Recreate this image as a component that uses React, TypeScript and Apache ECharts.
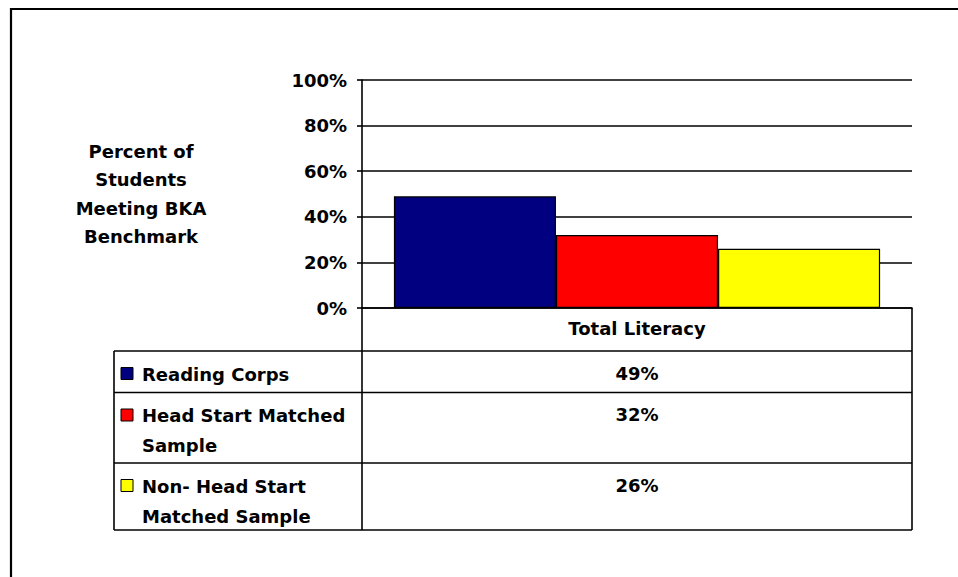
import React, { useEffect, useRef } from "react";
import * as echarts from "echarts";

const categories = ["Total Literacy"];
const seriesNames = ["Reading Corps", "Head Start Matched Sample", "Non- Head Start Matched Sample"];
const legendLines = [["Reading Corps"], ["Head Start Matched", "Sample"], ["Non- Head Start", "Matched Sample"]];
const values = [49, 32, 26];
const colors = ["#000080", "#FF0000", "#FFFF00"];
const yAxisTitle = ["Percent of", "Students", "Meeting BKA", "Benchmark"];

const FONT = "DejaVu Sans";

export default function App() {
  const ref = useRef<HTMLDivElement>(null);
  useEffect(() => {
    if (!ref.current) return;
    const chart = echarts.init(ref.current, null, { renderer: "svg" });

    const gridLeft = 362;
    const gridRight = 912;
    const axisY = 308;
    const tableLeft = 114;
    const rowTops = [351, 392.5, 463];
    const tableBottom = 530;
    const lineStyle = { stroke: "#000", lineWidth: 1.6 };
    const graphics: any[] = [];

    // outer frame
    graphics.push({
      type: "rect",
      shape: { x: 11, y: 9, width: 1000, height: 1000 },
      style: { fill: "none", stroke: "#000", lineWidth: 2.2 },
      silent: true,
      z: 0,
    });

    // y-axis title
    yAxisTitle.forEach((t, i) => {
      graphics.push({
        type: "text",
        x: 141,
        y: 151 + i * 28.6,
        style: { text: t, fill: "#000", font: `bold 18px "${FONT}"`, align: "center", verticalAlign: "middle" },
      });
    });

    // table lines
    graphics.push({ type: "line", shape: { x1: gridLeft, y1: axisY, x2: gridLeft, y2: tableBottom }, style: lineStyle });
    graphics.push({ type: "line", shape: { x1: gridRight, y1: axisY, x2: gridRight, y2: tableBottom }, style: lineStyle });
    graphics.push({ type: "line", shape: { x1: tableLeft, y1: rowTops[0], x2: tableLeft, y2: tableBottom }, style: lineStyle });
    [...rowTops, tableBottom].forEach((y) => {
      graphics.push({ type: "line", shape: { x1: tableLeft, y1: y, x2: gridRight, y2: y }, style: lineStyle });
    });

    // table rows
    values.forEach((v, i) => {
      const top = rowTops[i];
      const firstY = top + 23;
      graphics.push({
        type: "rect",
        shape: { x: 121, y: firstY - 6.5, width: 12, height: 12 },
        style: { fill: colors[i], stroke: "#000", lineWidth: 1 },
      });
      legendLines[i].forEach((ln, j) => {
        graphics.push({
          type: "text",
          x: 142,
          y: firstY + j * 30,
          style: { text: ln, fill: "#000", font: `bold 18px "${FONT}"`, align: "left", verticalAlign: "middle" },
        });
      });
      graphics.push({
        type: "text",
        x: (gridLeft + gridRight) / 2,
        y: firstY - 1,
        style: { text: `${v}%`, fill: "#000", font: `bold 18px "${FONT}"`, align: "center", verticalAlign: "middle" },
      });
    });

    chart.setOption({
      animation: false,
      backgroundColor: "#fff",
      grid: { left: gridLeft, right: 958 - gridRight, top: 80, bottom: 577 - axisY, containLabel: false },
      xAxis: {
        type: "category",
        data: categories,
        axisLine: { show: true, lineStyle: { color: "#000", width: 1.6 } },
        axisTick: { show: false },
        axisLabel: { margin: 11, color: "#000", fontFamily: FONT, fontWeight: "bold", fontSize: 18 },
      },
      yAxis: {
        type: "value",
        min: 0,
        max: 100,
        interval: 20,
        axisLine: { show: true, lineStyle: { color: "#000", width: 1.6 } },
        axisTick: { show: true, inside: false, length: 5, lineStyle: { color: "#000", width: 1.6 } },
        splitLine: { show: true, lineStyle: { color: "#000", width: 1.6 } },
        axisLabel: {
          formatter: "{value}%",
          margin: 15,
          color: "#000",
          fontFamily: FONT,
          fontWeight: "bold",
          fontSize: 18,
        },
      },
      series: seriesNames.map((name, i) => ({
        name,
        type: "bar",
        data: [values[i]],
        barGap: "0%",
        barCategoryGap: "11.6%",
        itemStyle: { color: colors[i], borderColor: "#000", borderWidth: 1.2 },
      })),
      graphic: graphics,
    });

    return () => chart.dispose();
  }, []);

  return <div ref={ref} style={{ position: "absolute", left: 0, top: 0, width: 958, height: 577 }} />;
}
